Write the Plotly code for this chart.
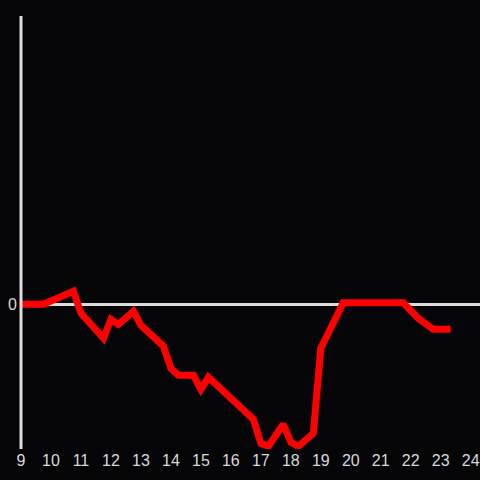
import plotly.graph_objects as go

hours = [9.0, 9.75, 10.75, 11.0, 11.75, 12.0, 12.25, 12.75, 13.0, 13.75, 14.0, 14.25,
         14.75, 15.0, 15.25, 16.0, 16.75, 17.0, 17.25, 17.75, 18.0, 18.25, 18.75,
         19.0, 19.75, 21.75, 22.25, 22.75, 23.33]
values = [0, 0, 13, -9, -34, -15, -20, -7, -21, -42, -64, -71,
          -71, -85, -73, -95, -115, -139, -142, -120, -138, -142, -129,
          -44, 1.5, 1.5, -14, -25, -25]
x_ticks = list(range(9, 25))

fig = go.Figure(go.Scatter(x=hours, y=values, mode="lines",
                           line=dict(color="#ff0000", width=7), hoverinfo="skip"))
# y axis line along the left edge of the plot area
fig.add_shape(type="line", xref="paper", yref="paper", x0=0, x1=0,
              y0=0, y1=1, line=dict(color="#dddddd", width=3), layer="above")
fig.update_layout(
    width=480, height=480,
    margin=dict(l=21, r=0, t=16, b=31),
    paper_bgcolor="#050407", plot_bgcolor="#050407",
    showlegend=False,
    font=dict(family="Liberation Sans, Arial, sans-serif", size=16, color="#d9d9d9"),
    xaxis=dict(range=[9, 24.31], tickvals=x_ticks, showgrid=False, zeroline=False,
               showline=False, ticks="", automargin=False,
               tickfont=dict(size=16, color="#d9d9d9")),
    yaxis=dict(range=[-144.7, 288.3], tickvals=[0], ticktext=["0"], showgrid=False,
               zeroline=True, zerolinecolor="#dddddd", zerolinewidth=3,
               showline=False, ticks="",
               automargin=False, ticklabelstandoff=3,
               tickfont=dict(size=16, color="#d9d9d9")),
)
fig.write_html("out.html", config={"displayModeBar": False},
               post_script="document.body.style.margin='0';document.body.style.background='#050407';")
